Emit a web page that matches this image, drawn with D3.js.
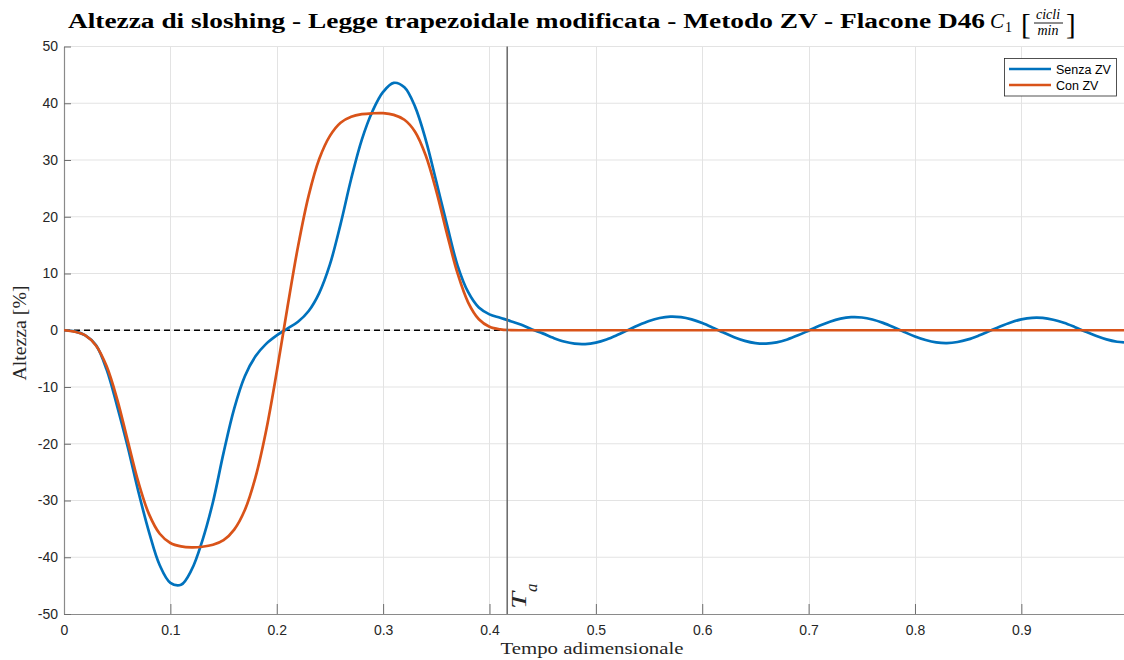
<!DOCTYPE html>
<html>
<head>
<meta charset="utf-8">
<script src="https://cdn.jsdelivr.net/npm/d3@7"></script>
<style>
  html, body { margin: 0; padding: 0; background: #fff; }
  svg { display: block; }
</style>
</head>
<body>
<svg id="chart" width="1124" height="660"></svg>
<script>
// Tempo adimensionale (campionamento delle curve)
const tempo = [
  0.00, 0.01, 0.02, 0.03, 0.04, 0.05, 0.06, 0.07, 0.08, 0.09,
  0.10, 0.11, 0.12, 0.13, 0.14, 0.15, 0.16, 0.17, 0.18, 0.19,
  0.20, 0.21, 0.22, 0.23, 0.24, 0.25, 0.26, 0.27, 0.28, 0.29,
  0.30, 0.31, 0.32, 0.33, 0.34, 0.35, 0.36, 0.37, 0.38, 0.39,
  0.40, 0.41, 0.42, 0.43, 0.44, 0.45, 0.46, 0.47, 0.48, 0.49,
  0.50, 0.51, 0.52, 0.53, 0.54, 0.55, 0.56, 0.57, 0.58, 0.59,
  0.60, 0.61, 0.62, 0.63, 0.64, 0.65, 0.66, 0.67, 0.68, 0.69,
  0.70, 0.71, 0.72, 0.73, 0.74, 0.75, 0.76, 0.77, 0.78, 0.79,
  0.80, 0.81, 0.82, 0.83, 0.84, 0.85, 0.86, 0.87, 0.88, 0.89,
  0.90, 0.91, 0.92, 0.93, 0.94, 0.95, 0.96, 0.97, 0.98, 0.99,
  0.9965
];

// Altezza di sloshing [%] senza input shaping
const senzaZV = [
   0.0,  -0.2,  -0.9,  -2.6,  -6.9, -13.4, -20.6, -28.5, -35.6, -41.4,
 -44.5, -44.85,-42.2, -37.1, -30.3, -21.6, -13.8,  -8.1,  -4.6,  -2.4,
  -0.9,   0.3,   1.5,   3.4,   6.6,  11.6,  18.7,  26.7,  33.6,  38.6,
  42.0,  43.6,  42.8,  39.4,  33.6,  26.2,  18.6,  11.4,   6.7,   4.0,
   2.8,   2.2,   1.6,   0.95,  0.15, -0.55, -1.34, -1.99, -2.37, -2.43,
  -2.17, -1.62, -0.85,  0.02,  0.89,  1.64,  2.16,  2.40,  2.31,  1.92,
   1.27,  0.46, -0.41, -1.23, -1.87, -2.26, -2.35, -2.13, -1.62, -0.90,
  -0.07,  0.78,  1.51,  2.04,  2.30,  2.25,  1.90,  1.30,  0.53, -0.31,
  -1.10, -1.73, -2.14, -2.26, -2.07, -1.61, -0.93, -0.14,  0.67,  1.38,
   1.91,  2.19,  2.17,  1.86,  1.31,  0.58, -0.22, -0.98, -1.61, -2.02,
  -2.13
];

// Altezza di sloshing [%] con input shaping ZV
const conZV = [
   0.0,  -0.25, -0.91, -2.68, -6.31,-12.16,-19.53,-26.82,-32.45,-35.86,
 -37.48,-38.08,-38.25,-38.15,-37.81,-37.0, -35.14,-31.69,-25.93,-17.71,
  -7.33,  3.98, 14.76, 23.72, 30.21, 34.25, 36.57, 37.62, 38.07, 38.23,
  38.25, 37.95, 37.09, 34.98, 30.83, 24.53, 17.02, 10.01,  4.88,  1.94,
   0.62,  0.16,  0.03,  0.0,   0.0,   0.0,   0.0,   0.0,   0.0,   0.0,
   0.0,   0.0,   0.0,   0.0,   0.0,   0.0,   0.0,   0.0,   0.0,   0.0,
   0.0,   0.0,   0.0,   0.0,   0.0,   0.0,   0.0,   0.0,   0.0,   0.0,
   0.0,   0.0,   0.0,   0.0,   0.0,   0.0,   0.0,   0.0,   0.0,   0.0,
   0.0,   0.0,   0.0,   0.0,   0.0,   0.0,   0.0,   0.0,   0.0,   0.0,
   0.0,   0.0,   0.0,   0.0,   0.0,   0.0,   0.0,   0.0,   0.0,   0.0,
   0.0
];

// Fine del moto (tempo adimensionale)
const Ta = 5 / 12;

const xTicks = [0, 0.1, 0.2, 0.3, 0.4, 0.5, 0.6, 0.7, 0.8, 0.9];
const xTickLabels = ["0", "0.1", "0.2", "0.3", "0.4", "0.5", "0.6", "0.7", "0.8", "0.9"];
const yTicks = [-50, -40, -30, -20, -10, 0, 10, 20, 30, 40, 50];
const yTickLabels = ["-50", "-40", "-30", "-20", "-10", "0", "10", "20", "30", "40", "50"];

const serie = [
  { nome: "Senza ZV", valori: senzaZV, colore: "#0072BD" },
  { nome: "Con ZV", valori: conZV, colore: "#D95319" }
];

(function () {
  // ---- layout ----
  const svg = d3.select("#chart");
  const pL = 64, pR = 1124, pT = 46.5, pB = 614;

  const x = d3.scaleLinear().domain([0, 0.9965]).range([pL, pR]);
  const y = d3.scaleLinear().domain([-50, 50]).range([pB, pT]);

  svg.append("rect").attr("width", 1124).attr("height", 660).attr("fill", "#fff");

  // griglia
  const grid = svg.append("g").attr("stroke", "#e3e3e3").attr("stroke-width", 1);
  grid.selectAll("line.v").data(xTicks.filter(d => d > 0)).join("line")
    .attr("class", "v")
    .attr("x1", d => Math.round(x(d)) + 0.5).attr("x2", d => Math.round(x(d)) + 0.5)
    .attr("y1", pT).attr("y2", pB);
  grid.selectAll("line.h").data(yTicks.filter(d => d > -50)).join("line")
    .attr("class", "h")
    .attr("x1", pL).attr("x2", pR)
    .attr("y1", d => y(d)).attr("y2", d => y(d));

  // assi
  const axisColor = "#8a8a8a";
  const gx = svg.append("g").attr("transform", `translate(0,${pB})`)
    .call(d3.axisBottom(x).tickValues(xTicks)
      .tickFormat((d, i) => xTickLabels[i])
      .tickSize(-10).tickSizeOuter(0).tickPadding(11.5));
  const gy = svg.append("g").attr("transform", `translate(${pL},0)`)
    .call(d3.axisLeft(y).tickValues(yTicks)
      .tickFormat((d, i) => yTickLabels[i])
      .tickSize(-7).tickSizeOuter(0).tickPadding(6));
  [gx, gy].forEach(g => {
    g.select(".domain").attr("stroke", axisColor).attr("stroke-width", 1.2);
    g.selectAll(".tick line").attr("stroke", "#6e6e6e").attr("stroke-width", 1);
    g.selectAll(".tick text")
      .attr("fill", "#262626")
      .attr("font-family", "'Liberation Sans', Arial, sans-serif")
      .attr("font-size", 14);
  });

  // linea di riferimento a zero fino a Ta
  svg.append("line")
    .attr("x1", x(0)).attr("x2", x(Ta))
    .attr("y1", y(0)).attr("y2", y(0))
    .attr("stroke", "#000").attr("stroke-width", 1.3)
    .attr("stroke-dasharray", "6,4");

  // curve
  const linea = d3.line()
    .x((d, i) => x(tempo[i]))
    .y(d => y(d))
    .curve(d3.curveCatmullRom.alpha(0.5));

  svg.append("clipPath").attr("id", "area")
    .append("rect").attr("x", pL).attr("y", pT).attr("width", pR - pL).attr("height", pB - pT);

  svg.append("g").attr("clip-path", "url(#area)")
    .selectAll("path").data(serie).join("path")
    .attr("d", s => linea(s.valori))
    .attr("fill", "none")
    .attr("stroke", s => s.colore)
    .attr("stroke-width", 2.7)
    .attr("stroke-linejoin", "round");

  // linea verticale Ta
  svg.append("line")
    .attr("x1", x(Ta)).attr("x2", x(Ta))
    .attr("y1", pT).attr("y2", pB)
    .attr("stroke", "#6f6f6f").attr("stroke-width", 1.6);

  const serif = "'Liberation Serif', 'DejaVu Serif', serif";

  // etichetta T_a, ruotata lungo la linea verticale
  const taX = x(Ta) + 19;
  svg.append("text")
    .attr("transform", `translate(${taX},${pB - 5}) rotate(-90)`)
    .attr("font-family", serif).attr("font-style", "italic")
    .attr("font-size", 21).attr("fill", "#262626")
    .attr("textLength", 17).attr("lengthAdjust", "spacingAndGlyphs")
    .text("T");
  svg.append("text")
    .attr("transform", `translate(${taX + 11},${pB - 22}) rotate(-90)`)
    .attr("font-family", serif).attr("font-style", "italic")
    .attr("font-size", 17).attr("fill", "#262626")
    .text("a");

  // etichette assi
  svg.append("text")
    .attr("x", 592).attr("y", 654)
    .attr("text-anchor", "middle")
    .attr("font-family", serif)
    .attr("font-size", 16.5)
    .attr("fill", "#262626")
    .attr("textLength", 183).attr("lengthAdjust", "spacingAndGlyphs")
    .text("Tempo adimensionale");

  svg.append("text")
    .attr("transform", `translate(26,333) rotate(-90)`)
    .attr("text-anchor", "middle")
    .attr("font-family", serif)
    .attr("font-size", 18)
    .attr("fill", "#262626")
    .attr("textLength", 95).attr("lengthAdjust", "spacingAndGlyphs")
    .text("Altezza [%]");

  // titolo
  svg.append("text")
    .attr("x", 68).attr("y", 28)
    .attr("font-family", serif).attr("font-weight", "bold").attr("font-size", 20.5)
    .attr("fill", "#000")
    .attr("textLength", 917).attr("lengthAdjust", "spacingAndGlyphs")
    .text("Altezza di sloshing - Legge trapezoidale modificata - Metodo ZV - Flacone D46");
  svg.append("text").attr("x", 990).attr("y", 28)
    .attr("font-family", serif).attr("font-style", "italic").attr("font-size", 21)
    .text("C");
  svg.append("text").attr("x", 1005).attr("y", 32)
    .attr("font-family", serif).attr("font-size", 14)
    .text("1");
  svg.append("text").attr("x", 1021).attr("y", 34)
    .attr("font-family", serif).attr("font-size", 29)
    .text("[");
  svg.append("text").attr("x", 1048).attr("y", 19).attr("text-anchor", "middle")
    .attr("font-family", serif).attr("font-style", "italic").attr("font-size", 14)
    .text("cicli");
  svg.append("line").attr("x1", 1034).attr("x2", 1063).attr("y1", 23).attr("y2", 23)
    .attr("stroke", "#000").attr("stroke-width", 0.9);
  svg.append("text").attr("x", 1048).attr("y", 35).attr("text-anchor", "middle")
    .attr("font-family", serif).attr("font-style", "italic").attr("font-size", 14)
    .text("min");
  svg.append("text").attr("x", 1066).attr("y", 34)
    .attr("font-family", serif).attr("font-size", 29)
    .text("]");

  // legenda
  const leg = svg.append("g");
  leg.append("rect")
    .attr("x", 1004.5).attr("y", 58.5).attr("width", 112).attr("height", 37.5)
    .attr("fill", "#fff").attr("stroke", "#262626").attr("stroke-width", 0.8);
  const voci = leg.selectAll("g.voce").data(serie).join("g")
    .attr("class", "voce")
    .attr("transform", (d, i) => `translate(0,${69 + i * 16})`);
  voci.append("line")
    .attr("x1", 1009).attr("x2", 1051).attr("y1", 0).attr("y2", 0)
    .attr("stroke", d => d.colore).attr("stroke-width", 2.7);
  voci.append("text")
    .attr("x", 1056).attr("y", 4.5)
    .attr("font-family", "'Liberation Sans', Arial, sans-serif")
    .attr("font-size", 12.5)
    .attr("fill", "#000")
    .text(d => d.nome);
})();
</script>
</body>
</html>
